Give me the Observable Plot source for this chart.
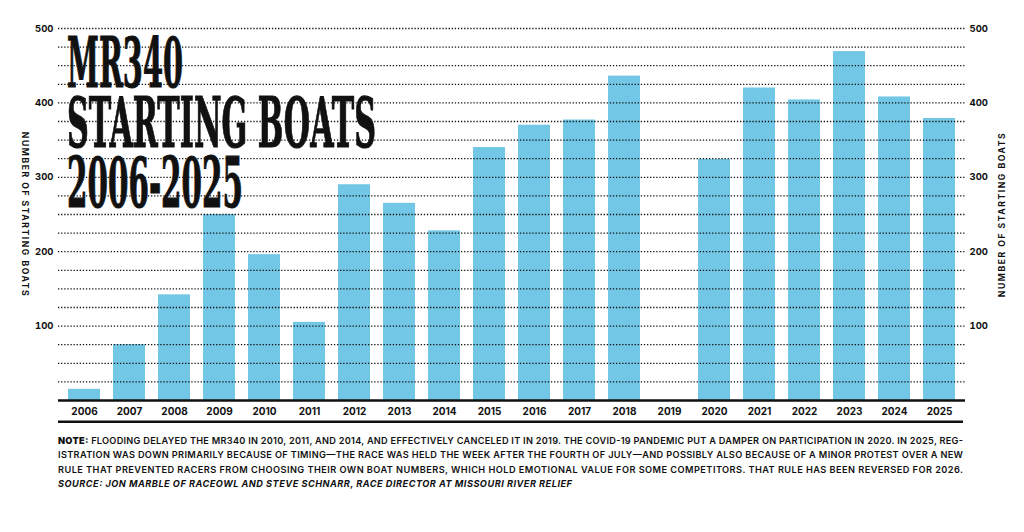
<!DOCTYPE html>
<html><head><meta charset="utf-8">
<script src="https://cdn.jsdelivr.net/npm/d3@7"></script>
<script src="https://cdn.jsdelivr.net/npm/@observablehq/plot@0.6"></script>
<style>
body{margin:0;background:#fff;font-family:Inter,sans-serif;}
#wrap{position:relative;width:1024px;height:532px;overflow:hidden;}
#wrap svg{display:block;}
.ylab text{letter-spacing:1.5px;}
#title{position:absolute;left:0;top:0;pointer-events:none;}
</style></head><body><div id="wrap"></div>
<script>
const years = ["2006","2007","2008","2009","2010","2011","2012","2013","2014","2015","2016","2017","2018","2019","2020","2021","2022","2023","2024","2025"];
const boats = [15,75,142,250,196,105,290,265,228,340,370,377,436,null,324,420,404,469,408,379];
const yTicks = [100,200,300,400,500];
const gridValues = [25,50,75,100,125,150,175,200,225,250,275,300,325,350,375,400,425,450,475,500];
const yLabel = "NUMBER OF STARTING BOATS";
const titleLines = ["MR340","STARTING BOATS","2006-2025"];
const noteLead = "NOTE:";
const noteLines = [
  " FLOODING DELAYED THE MR340 IN 2010, 2011, AND 2014, AND EFFECTIVELY CANCELED IT IN 2019. THE COVID-19 PANDEMIC PUT A DAMPER ON PARTICIPATION IN 2020. IN 2025, REG-",
  "ISTRATION WAS DOWN PRIMARILY BECAUSE OF TIMING\u2014THE RACE WAS HELD THE WEEK AFTER THE FOURTH OF JULY\u2014AND POSSIBLY ALSO BECAUSE OF A MINOR PROTEST OVER A NEW",
  "RULE THAT PREVENTED RACERS FROM CHOOSING THEIR OWN BOAT NUMBERS, WHICH HOLD EMOTIONAL VALUE FOR SOME COMPETITORS. THAT RULE HAS BEEN REVERSED FOR 2026."
];
const sourceLine = "SOURCE: JON MARBLE OF RACEOWL AND STEVE SCHNARR, RACE DIRECTOR AT MISSOURI RIVER RELIEF";

const data = years.map((y, i) => ({year: y, boats: boats[i]}));
const wrap = document.getElementById("wrap");

const chart = Plot.plot({
  width: 1024, height: 420,
  marginTop: 28, marginBottom: 20, marginLeft: 58, marginRight: 59,
  style: {fontFamily: "Inter, sans-serif", fontSize: "10px", fontWeight: 700, color: "#111", background: "#fff"},
  x: {type: "band", domain: years, paddingInner: 0.29, paddingOuter: 0.125},
  y: {domain: [0, 500]},
  marks: [
    Plot.barY(data, {x: "year", y: "boats", fill: "#72c7e6"}),
    Plot.ruleY(gridValues, {stroke: "#111", strokeWidth: 1.3, strokeDasharray: "1.3,1.8"}),
    Plot.ruleY([0], {stroke: "#111", strokeWidth: 2.5}),
    Plot.axisX({tickSize: 0, tickPadding: 7, fontSize: 10, fontWeight: 700, label: null}),
    Plot.axisY({anchor: "left", ticks: yTicks, tickSize: 0, tickPadding: 5, fontSize: 9.5, fontWeight: 700, label: null}),
    Plot.axisY({anchor: "right", ticks: yTicks, tickSize: 0, tickPadding: 4, fontSize: 9.5, fontWeight: 700, label: null}),
    Plot.text([yLabel], {frameAnchor: "left", dx: -34, rotate: 90, textAnchor: "middle", text: d => d, className: "ylab", fontSize: 8.7, fontWeight: 700, fill: "#111"}),
    Plot.text([yLabel], {frameAnchor: "right", dx: 37, rotate: -90, textAnchor: "middle", text: d => d, className: "ylab", fontSize: 8.7, fontWeight: 700, fill: "#111"})
  ]
});
wrap.appendChild(chart);

// Title overlay (one text element, three lines)
const tsvg = d3.create("svg").attr("id", "title").attr("width", 1024).attr("height", 240);
const titleWidths = [116, 309, 176];
const tt = tsvg.append("text")
  .style("font-family", "'DejaVu Serif Condensed', 'DejaVu Serif', serif")
  .style("font-stretch", "condensed")
  .style("font-weight", 700).style("font-size", "69px")
  .attr("fill", "#111").attr("stroke", "#111").attr("stroke-width", 1.1);
titleLines.forEach((t, i) => {
  tt.append("tspan")
    .attr("x", 67).attr("y", 87 + 60 * i)
    .attr("textLength", titleWidths[i]).attr("lengthAdjust", "spacingAndGlyphs")
    .text(t);
});
wrap.appendChild(tsvg.node());

// Note
const nsvg = d3.create("svg").attr("width", 1024).attr("height", 112);
nsvg.append("line").attr("x1", 58).attr("x2", 963).attr("y1", 1.7).attr("y2", 1.7)
  .attr("stroke", "#111").attr("stroke-width", 2.5);
const noteBase = [24, 38.4, 52.8];
noteLines.forEach((t, i) => {
  const tx = nsvg.append("text").attr("x", 58).attr("y", noteBase[i])
    .attr("textLength", 905).attr("lengthAdjust", "spacing")
    .style("font-family", "Inter, sans-serif").style("font-size", "9.2px").style("font-weight", 600).attr("fill", "#111");
  if (i === 0) tx.append("tspan").style("font-weight", 900).text(noteLead);
  tx.append("tspan").text(t);
});
nsvg.append("text").attr("x", 58).attr("y", 67.2)
  .attr("textLength", 514).attr("lengthAdjust", "spacing")
  .style("font-family", "Inter, sans-serif").style("font-size", "9.2px").style("font-weight", 700).style("font-style", "italic")
  .attr("fill", "#111").text(sourceLine);
wrap.appendChild(nsvg.node());
</script></body></html>
